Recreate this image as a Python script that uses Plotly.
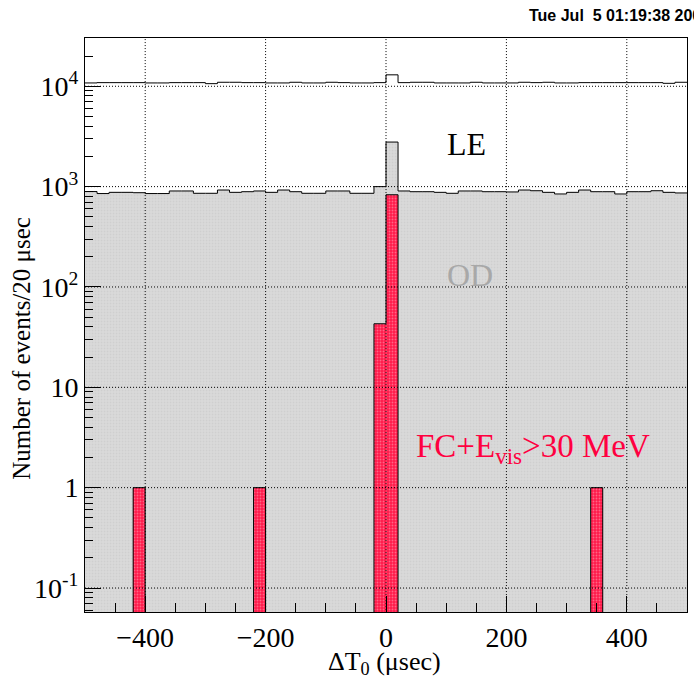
import numpy as np
import plotly.graph_objects as go

# Histogram binning: 20 usec bins from -500 to 500 usec
bin_width = 20
x_lo, x_hi = -500, 500
edges = np.arange(x_lo, x_hi + bin_width, bin_width)
centers = edges[:-1] + bin_width / 2

# LE sample (events / 20 usec)
le_counts = [10790, 10870, 10870, 10870, 10870, 10790, 10790, 10870, 10870, 10870,
             10620, 10960, 10960, 10870, 10870, 10790, 10790, 10960, 10790, 10790,
             10960, 10870, 10790, 10790, 10870, 13000, 10870, 10960, 10960, 10790,
             10790, 10790, 10960, 10790, 10790, 10790, 10960, 10870, 10960, 10790,
             10790, 10870, 10870, 10870, 10870, 10870, 10870, 10870, 10700, 10960]

# OD sample (events / 20 usec)
od_counts = [893, 853, 877, 877, 870, 853, 853, 905, 905, 858,
             858, 925, 877, 890, 905, 877, 925, 890, 858, 858,
             905, 905, 858, 858, 1000, 2780, 905, 890, 890, 877,
             858, 905, 905, 890, 890, 885, 925, 910, 877, 845,
             877, 925, 890, 890, 845, 890, 890, 910, 877, 865]

# FC + Evis > 30 MeV sample: non-empty bins only (bin centres)
fc_centers = [-410, -210, -10, 10, 350]
fc_counts = [1, 1, 43, 830, 1]

# Axis ticks
x_ticks = [-400, -200, 0, 200, 400]
y_ticks = [1e4, 1e3, 1e2, 1e1, 1e0, 1e-1]
y_ticktext = ["10<sup>4</sup>", "10<sup>3</sup>", "10<sup>2</sup>", "10", "1", "10<sup>-1</sup>"]

y_log_range = [-1.239, 4.481]
floor_val = 1e-4  # below the visible range, used for empty bins in outlines

SERIF = "Liberation Serif"
GRAY_FILL = "#d4d4d4"
RED = "#ff0040"


def step_xy(counts):
    """Outline of a histogram as an 'hv' step line."""
    ys = [max(c, floor_val) for c in counts]
    return list(edges), ys + [ys[-1]]


fc_full = [0.0] * len(centers)
for c, n in zip(fc_centers, fc_counts):
    fc_full[int((c - x_lo) // bin_width)] = n

fig = go.Figure()

# OD: filled gray histogram
fig.add_trace(go.Bar(x=centers, y=od_counts, width=bin_width,
                     marker=dict(color=GRAY_FILL,
                                 pattern=dict(shape=".", fgcolor="#c4c4c4",
                                              bgcolor="#dadada", size=3, solidity=0.3),
                                 line=dict(width=0)),
                     hoverinfo="skip"))
sx, sy = step_xy(od_counts)
fig.add_trace(go.Scatter(x=sx, y=sy, mode="lines", line_shape="hv",
                         line=dict(color="black", width=1), hoverinfo="skip"))

# LE: outline only
sx, sy = step_xy(le_counts)
fig.add_trace(go.Scatter(x=sx, y=sy, mode="lines", line_shape="hv",
                         line=dict(color="black", width=1), hoverinfo="skip"))

# FC + Evis > 30 MeV: red stippled histogram
fig.add_trace(go.Bar(x=fc_centers, y=fc_counts, width=bin_width,
                     marker=dict(color="#ff2a55",
                                 pattern=dict(shape=".", fgcolor="#ffb0c0",
                                              bgcolor="#ff1a4a", size=3, solidity=0.3),
                                 line=dict(width=0)),
                     hoverinfo="skip"))
sx, sy = step_xy(fc_full)
fig.add_trace(go.Scatter(x=sx, y=sy, mode="lines", line_shape="hv",
                         line=dict(color="black", width=1), hoverinfo="skip"))

# Dotted grid drawn above the histograms
for xv in x_ticks:
    fig.add_trace(go.Scatter(x=[xv, xv], y=[floor_val, 1e6], mode="lines",
                             line=dict(color="black", width=1, dash="1px,2px"),
                             hoverinfo="skip"))
for yv in y_ticks:
    fig.add_trace(go.Scatter(x=[x_lo, x_hi], y=[yv, yv], mode="lines",
                             line=dict(color="black", width=1, dash="1px,2px"),
                             hoverinfo="skip"))

# Minor tick positions on the log axis
y_minor = [m * 10.0 ** e for e in range(-2, 5) for m in range(2, 10)]

fig.update_layout(
    width=694, height=684,
    margin=dict(l=85, r=7, t=38, b=72),
    paper_bgcolor="white", plot_bgcolor="white",
    showlegend=False,
    barmode="overlay",
    bargap=0,
    xaxis=dict(range=[x_lo, x_hi], tickvals=x_ticks, ticks="inside", ticklen=16,
               tickcolor="black", showgrid=False, zeroline=False,
               showline=True, linecolor="black", linewidth=1, mirror=True,
               tickfont=dict(family=SERIF, size=28, color="black"),
               minor=dict(dtick=50, tick0=0, ticks="inside", ticklen=9,
                          tickcolor="black", showgrid=False),
               layer="above traces"),
    yaxis=dict(type="log", range=y_log_range, tickvals=y_ticks, ticktext=y_ticktext,
               ticks="inside", ticklen=16, tickcolor="black", showgrid=False,
               zeroline=False, showline=True, linecolor="black", linewidth=1, mirror=True,
               tickfont=dict(family=SERIF, size=28, color="black"),
               minor=dict(tickvals=y_minor, ticks="inside", ticklen=8,
                          tickcolor="black", showgrid=False),
               layer="above traces"),
    annotations=[
        dict(text="LE", xref="paper", yref="paper", x=0.633, y=0.815,
             xanchor="center", yanchor="middle",
             showarrow=False, font=dict(family=SERIF, size=32, color="black")),
        dict(text="OD", xref="paper", yref="paper", x=0.64, y=0.587,
             xanchor="center", yanchor="middle",
             showarrow=False, font=dict(family=SERIF, size=32, color="#a8a8a8")),
        dict(text="FC+E<sub>vis</sub>>30 MeV", xref="paper", yref="paper",
             x=0.546, y=0.285, xanchor="left", yanchor="middle", showarrow=False,
             font=dict(family=SERIF, size=33, color=RED)),
        dict(text="Number of events/20 \u03bcsec", xref="paper", yref="paper",
             x=-0.105, y=0.46, xanchor="center", yanchor="middle",
             textangle=-90, showarrow=False,
             font=dict(family=SERIF, size=25, color="black")),
        dict(text="\u0394T<sub>0</sub> (\u03bcsec)", xref="paper", yref="paper",
             x=0.498, y=-0.088, xanchor="center", yanchor="middle", showarrow=False,
             font=dict(family=SERIF, size=26, color="black")),
        dict(text="<b>Tue Jul \u00a05 01:19:38 2005</b>", xref="paper", yref="paper",
             x=0.734, y=1.04, xanchor="left", yanchor="middle", showarrow=False,
             font=dict(family="Liberation Sans", size=16, color="black")),
    ],
)

fig.write_html("out.html")
